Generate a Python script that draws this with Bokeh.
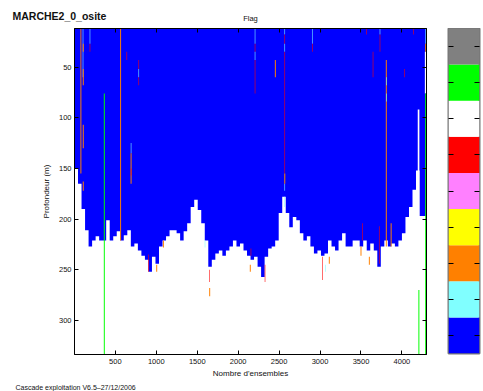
from bokeh.plotting import figure
from bokeh.models import (Range1d, LinearAxis, FixedTicker, Label,
                          CustomJSTickFormatter, ColumnDataSource)
from bokeh.layouts import row, column
from bokeh.embed import file_html
from bokeh.resources import INLINE

# ---------------- data ----------------
flag_values = [1, 2, 3, 4, 5, 6, 7, 8, 9]
flag_colors = ["#0000FF", "#80FFFF", "#FF8000", "#FFFF00", "#FF80FF",
               "#FF0000", "#FFFFFF", "#00FF00", "#808080"]

x_ticks = [500, 1000, 1500, 2000, 2500, 3000, 3500, 4000]
y_ticks = [50, 100, 150, 200, 250, 300]

first_depth = 12.0
# ensemble bins (start of each bin) and depth of last valid (blue, flag 1) cell
profile_start = list(range(1, 4301, 43))
profile_end = 4300
profile_depth = [
    150, 165, 190, 211, 227, 221, 217, 221, 221, 201,
    221, 217, 212, 221, 216, 211, 227, 224, 231, 236,
    240, 252, 237, 244, 227, 221, 217, 211, 211, 214,
    221, 212, 204, 188, 181, 191, 204, 221, 247, 240,
    234, 231, 236, 231, 227, 221, 227, 224, 231, 236,
    240, 237, 247, 257, 237, 229, 227, 221, 194, 178,
    194, 208, 198, 201, 214, 221, 217, 227, 234, 231,
    236, 234, 221, 227, 231, 221, 214, 227, 227, 221,
    221, 227, 221, 231, 224, 231, 247, 227, 221, 227,
    224, 227, 221, 214, 198, 188, 171, 152, 197, 197,
]

# vertical runs of other flags: ensemble, top depth, bottom depth, flag
streak_ens = [79, 105, 108, 108, 108, 108, 190, 190, 365, 564, 640,
              692, 692, 692, 786, 786, 786, 903, 1005, 1087, 1595, 1652, 1652,
              2148, 2156, 2206, 2206, 2206, 2206, 2328, 2454,
              2569, 2569, 2569, 2569, 2569, 2569, 2563,
              2905, 2905, 3032, 3064, 3113, 3500, 3520, 3570, 3602, 3647,
              3723, 3732, 3732, 3809, 3809, 3809, 3868, 4034, 4143,
              4203, 4207, 4290, 4290, 4290, 4290]
streak_top = [12, 12, 27, 52, 107, 163, 12, 27, 76, 12, 35,
              125, 135, 150, 43, 52, 60, 235, 245, 221, 221, 250, 268,
              245, 229, 12, 27, 35, 43, 245, 43,
              12, 18, 27, 35, 155, 165, 178,
              12, 27, 237, 245, 237, 227, 204, 12, 237, 35,
              207, 12, 18, 43, 60, 76, 204, 52, 12,
              92, 270, 12, 27, 35, 76]
streak_bottom = [155, 60, 35, 68, 130, 172, 27, 35, 333.5, 221, 43,
                 135, 165, 157, 52, 60, 68, 252, 252, 228, 228, 262, 276,
                 252, 236, 27, 35, 43, 76, 262, 60,
                 18, 27, 35, 155, 165, 172, 188,
                 27, 35, 260, 252, 244, 236, 221, 18, 245, 60,
                 244, 18, 35, 227, 68, 84, 227, 60, 18,
                 333.5, 333.5, 27, 35, 76, 333.5]
streak_flag = [3, 2, 3, 3, 3, 3, 2, 6, 8, 3, 6,
               2, 3, 6, 6, 2, 6, 6, 3, 3, 2, 6, 3,
               3, 6, 2, 6, 2, 6, 6, 3,
               2, 6, 2, 6, 3, 2, 2,
               2, 6, 6, 2, 3, 3, 6, 6, 3, 6,
               6, 2, 6, 3, 2, 2, 3, 6, 6,
               7, 8, 2, 3, 7, 8]

title_text = "MARCHE2_0_osite"
subtitle_text = "Flag"
footer_text = "Cascade exploitation V6.5\u201327/12/2006"

# ---------------- styles ----------------
FONT = "Liberation Sans"
TXT = "#111111"
flag_width = {2: 7, 3: 12, 6: 7, 7: 20, 8: 12}  # drawn width in ensembles
W, HEADER_H, FOOTER_H = 483, 28, 11


def text_strip(height):
    f = figure(output_backend="svg", toolbar_location=None,
               width=W, height=height, min_border=0,
               x_range=Range1d(0, W), y_range=Range1d(height, 0),
               background_fill_color="white", border_fill_color="white")
    f.axis.visible = False
    f.grid.visible = False
    f.outline_line_color = None
    return f


header = text_strip(HEADER_H)
header.add_layout(Label(x=12, y=15.5, text=title_text, text_font=FONT,
                        text_font_size="10.5px", text_font_style="bold",
                        text_baseline="middle", text_color=TXT))
header.add_layout(Label(x=250, y=18.3, text=subtitle_text, text_font=FONT,
                        text_font_size="7.5px", text_align="center",
                        text_baseline="middle", text_color=TXT))

footer = text_strip(FOOTER_H)
footer.add_layout(Label(x=15, y=6, text=footer_text, text_font=FONT,
                        text_font_size="7px", text_baseline="middle",
                        text_color=TXT))

p = figure(output_backend="svg", toolbar_location=None,
           frame_width=352, frame_height=326,
           min_border_left=74, min_border_right=10,
           min_border_top=0, min_border_bottom=26,
           x_range=Range1d(1, 4300), y_range=Range1d(333.5, 12),
           background_fill_color="white", border_fill_color="white")
p.xgrid.visible = False
p.ygrid.visible = False
p.outline_line_color = "black"

# valid (flag 1) region
xs = profile_start + [profile_end]
y2 = profile_depth + [profile_depth[-1]]
p.varea_step(x=xs, y1=[first_depth] * len(xs), y2=y2, step_mode="after",
             fill_color=flag_colors[0])

# streaks
lefts, rights, colors = [], [], []
for e, f in zip(streak_ens, streak_flag):
    w = flag_width[f]
    lefts.append(e - w / 2)
    rights.append(e + w / 2)
    colors.append(flag_colors[f - 1])
src = ColumnDataSource(dict(left=lefts, right=rights, top=streak_top,
                            bottom=streak_bottom, color=colors))
p.quad(left="left", right="right", top="top", bottom="bottom",
       fill_color="color", line_color=None, source=src)

blank = CustomJSTickFormatter(code="return ''")


def style_axis(ax, label_size="7.5px"):
    ax.major_tick_in = 4
    ax.major_tick_out = 0
    ax.minor_tick_line_color = None
    ax.axis_line_color = "black"
    ax.major_tick_line_color = "black"
    ax.major_label_text_font = FONT
    ax.major_label_text_font_size = label_size
    ax.major_label_text_color = TXT
    ax.axis_label_text_font = FONT
    ax.axis_label_text_font_size = "8px"
    ax.axis_label_text_font_style = "normal"
    ax.axis_label_text_color = TXT


xa = p.xaxis[0]
xa.ticker = FixedTicker(ticks=x_ticks)
xa.axis_label = "Nombre d'ensembles"
style_axis(xa)
xa.major_label_standoff = 4
xa.axis_label_standoff = 2

ya = p.yaxis[0]
ya.ticker = FixedTicker(ticks=y_ticks)
ya.axis_label = "Profondeur (m)"
style_axis(ya)
ya.major_label_standoff = 3
ya.axis_label_standoff = 5

top_ax = LinearAxis(ticker=FixedTicker(ticks=x_ticks), formatter=blank)
style_axis(top_ax)
top_ax.major_label_standoff = 0
top_ax.major_label_text_font_size = "1px"
p.add_layout(top_ax, "above")
right_ax = LinearAxis(ticker=FixedTicker(ticks=y_ticks), formatter=blank)
style_axis(right_ax)
right_ax.major_label_standoff = 0
p.add_layout(right_ax, "right")

# ---------------- colour bar ----------------
cb = figure(output_backend="svg", toolbar_location=None,
            frame_width=31, frame_height=325,
            min_border_left=12, min_border_right=4,
            min_border_top=0, min_border_bottom=27,
            x_range=Range1d(0, 1), y_range=Range1d(0.5, 9.5),
            background_fill_color="white", border_fill_color="white")
cb.xgrid.visible = False
cb.ygrid.visible = False
cb.xaxis.visible = False
cb.yaxis.visible = False
cb.outline_line_color = "#777777"
cb.outline_line_width = 2
cb_src = ColumnDataSource(dict(bottom=[v - 0.5 for v in flag_values],
                               top=[v + 0.5 for v in flag_values],
                               color=flag_colors))
cb.quad(left=0, right=1, bottom="bottom", top="top", fill_color="color",
        line_color=None, source=cb_src)
for side in ("left", "right"):
    ax = LinearAxis(ticker=FixedTicker(ticks=flag_values), formatter=blank)
    ax.major_tick_in = 5
    ax.major_tick_out = 0
    ax.minor_tick_line_color = None
    ax.axis_line_color = None
    ax.major_tick_line_color = "black"
    ax.major_tick_line_width = 1
    ax.major_label_standoff = 0
    cb.add_layout(ax, side)
# matching (invisible) top panel so both frames start at the same height
cb_top = LinearAxis(ticker=FixedTicker(ticks=[]), formatter=blank)
cb_top.axis_line_color = None
cb_top.major_tick_line_color = None
cb_top.minor_tick_line_color = None
cb_top.major_tick_in = 4
cb_top.major_tick_out = 0
cb_top.major_label_standoff = 0
cb_top.major_label_text_font_size = "1px"
cb.add_layout(cb_top, "above")

layout = column(header, row(p, cb), footer)
open("out.html", "w").write(file_html(layout, INLINE))
